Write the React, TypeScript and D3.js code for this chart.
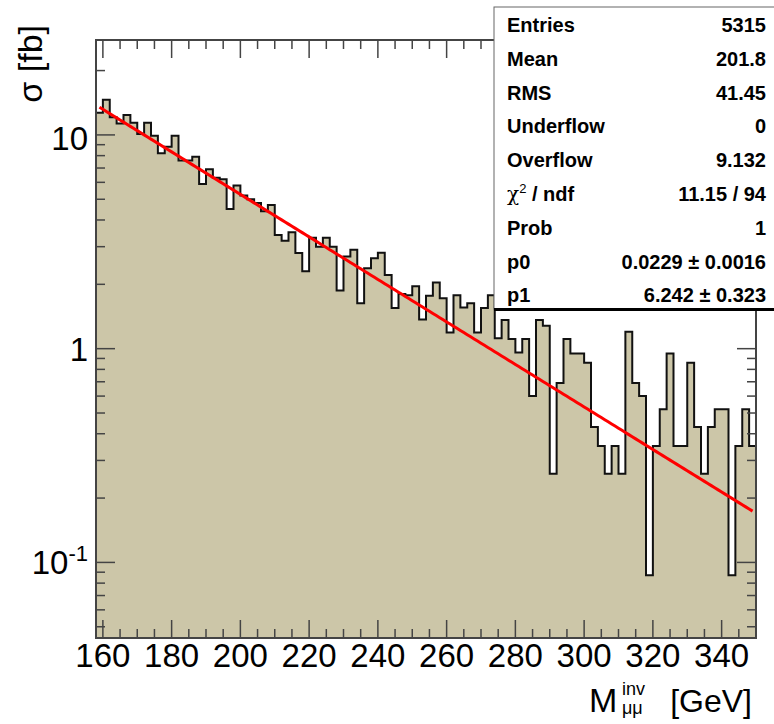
import React from "react";
import * as d3 from "d3";

// histogram: 96 bins of 2 GeV from 158 to 350
const xMin = 158;
const xMax = 350;
const binWidth = 2;

// sigma [fb] per bin
const sigma = [
  12.7, 14.6, 12.1, 11.3, 12.4, 11.4, 10.1, 11.4, 9.9, 8.2,
  8.8, 9.9, 7.6, 7.6, 7.9, 5.9, 6.9, 6.3, 6.2, 4.5,
  5.8, 5.2, 5.0, 4.8, 4.4, 4.7, 3.4, 3.2, 3.5, 2.8,
  2.3, 3.3, 3.0, 3.3, 3.0, 1.87, 2.7, 2.9, 1.63, 2.38,
  2.65, 2.81, 2.21, 1.55, 1.8, 1.78, 1.96, 1.37, 1.77, 2.04,
  1.72, 1.19, 1.78, 1.56, 1.63, 1.19, 1.55, 1.78, 1.12, 1.36,
  1.11, 0.96, 1.11, 0.6, 1.36, 1.28, 0.26, 0.69, 1.11, 0.95,
  0.95, 0.86, 0.43, 0.35, 0.26, 0.35, 0.26, 1.2, 0.69, 0.6,
  0.087, 0.35, 0.52, 0.95, 0.35, 0.35, 0.86, 0.43, 0.26, 0.43,
  0.52, 0.52, 0.087, 0.35, 0.52, 0.35,
];

const xTickLabels = [160, 180, 200, 220, 240, 260, 280, 300, 320, 340];
const yDomain = [0.0443, 27.8];

// fit: exp(p1 - p0 * x)
const p0 = 0.0229;
const p1 = 6.242;
const fitRange = [159, 349];

const statsLabels = ["Entries", "Mean", "RMS", "Underflow", "Overflow", "chi2", "Prob", "p0", "p1"];
const statsValues = ["5315", "201.8", "41.45", "0", "9.132", "11.15 / 94", "1", "0.0229 \u00b1 0.0016", "6.242 \u00b1 0.323"];

const FONT = "'Liberation Sans', Arial, Helvetica, sans-serif";

export default function App() {
  const W = 774, H = 724;
  const left = 96, right = 756, top = 40, bottom = 638;

  const x = d3.scaleLinear().domain([xMin, xMax]).range([left, right]);
  const y = d3.scaleLog().domain(yDomain).range([bottom, top]);

  // step outline of the histogram
  const pts: [number, number][] = [[x(xMin), bottom]];
  sigma.forEach((v, i) => {
    const lo = xMin + i * binWidth;
    pts.push([x(lo), y(v)], [x(lo + binWidth), y(v)]);
  });
  pts.push([x(xMax), bottom]);
  const line = d3.line();
  const outline = line(pts) as string;
  const fillPath = outline + "Z";

  const fitPts = d3.range(fitRange[0], fitRange[1] + 0.01, 1).map(
    (m) => [x(m), y(Math.exp(p1 - p0 * m))] as [number, number]
  );

  const xTicks = d3.range(160, xMax, 5);
  const yTicks: { v: number; major: boolean }[] = [];
  [0.01, 0.1, 1, 10].forEach((d) => {
    for (let k = 1; k <= 9; k++) {
      const v = k * d;
      if (v >= yDomain[0] && v <= yDomain[1]) yTicks.push({ v, major: k === 1 });
    }
  });

  const frameColor = "#444";
  const rowY = (i: number) => 32 + i * 33.8;

  return (
    <svg width={W} height={H} style={{ position: "absolute", left: 0, top: 0, background: "#fff" }} fontFamily={FONT}>
      <rect x={0} y={0} width={W} height={H} fill="#fff" />
      <path d={fillPath} fill="#ccc6a8" stroke="none" />
      <path d={outline} fill="none" stroke="#111" strokeWidth={2} strokeLinejoin="miter" />
      <path d={d3.line()(fitPts) as string} fill="none" stroke="#ff0000" strokeWidth={3} />

      {/* frame */}
      <rect x={left} y={top} width={right - left} height={bottom - top} fill="none" stroke={frameColor} strokeWidth={2} />

      {xTicks.map((t) => {
        const len = t % 20 === 0 ? 18 : 9;
        return (
          <g key={"xt" + t} stroke={frameColor} strokeWidth={1.5}>
            <line x1={x(t)} x2={x(t)} y1={bottom} y2={bottom - len} />
            <line x1={x(t)} x2={x(t)} y1={top} y2={top + len} />
          </g>
        );
      })}
      {yTicks.map((t, i) => {
        const len = t.major ? 19 : 9;
        return (
          <g key={"yt" + i} stroke={frameColor} strokeWidth={1.5}>
            <line x1={left} x2={left + len} y1={y(t.v)} y2={y(t.v)} />
            <line x1={right} x2={right - len} y1={y(t.v)} y2={y(t.v)} />
          </g>
        );
      })}

      {xTickLabels.map((t) => (
        <text key={"xl" + t} x={x(t)} y={667} textAnchor="middle" fontSize={33} fill="#000">
          {t}
        </text>
      ))}

      <text x={88} y={y(10) + 15} textAnchor="end" fontSize={33} fill="#000">10</text>
      <text x={88} y={y(1) + 12} textAnchor="end" fontSize={33} fill="#000">1</text>
      <text x={88} y={y(0.1) + 12} textAnchor="end" fontSize={33} fill="#000">
        10<tspan fontSize={22} dy={-13}>-1</tspan>
      </text>

      {/* axis titles */}
      <text transform="translate(42,25) rotate(-90)" textAnchor="end" fontSize={34} fill="#000">
        σ [fb]
      </text>
      <text x={589} y={712} fontSize={34} fill="#000">M</text>
      <text x={622} y={695} fontSize={18} fill="#000">inv</text>
      <text x={622} y={714} fontSize={18} fill="#000">μμ</text>
      <text x={752} y={712} textAnchor="end" fontSize={32} fill="#000">[GeV]</text>

      {/* stats box */}
      <rect x={494} y={7} width={300} height={302} fill="#fff" stroke="#666" strokeWidth={1} />
      <line x1={494} x2={W} y1={309.5} y2={309.5} stroke="#000" strokeWidth={3} />
      {statsLabels.map((lab, i) => (
        <g key={lab}>
          {lab === "chi2" ? (
            <text x={507} y={rowY(i)} fontSize={20} fill="#000">
              <tspan fontWeight="normal" fontFamily="'DejaVu Serif', serif">χ</tspan>
              <tspan fontSize={13} dy={-8}>2</tspan>
              <tspan dy={8} fontWeight="bold"> / ndf</tspan>
            </text>
          ) : (
            <text x={507} y={rowY(i)} fontSize={20} fontWeight="bold" fill="#000">{lab}</text>
          )}
          <text x={766} y={rowY(i)} fontSize={20} fontWeight="bold" textAnchor="end" fill="#000">
            {statsValues[i]}
          </text>
        </g>
      ))}
    </svg>
  );
}
